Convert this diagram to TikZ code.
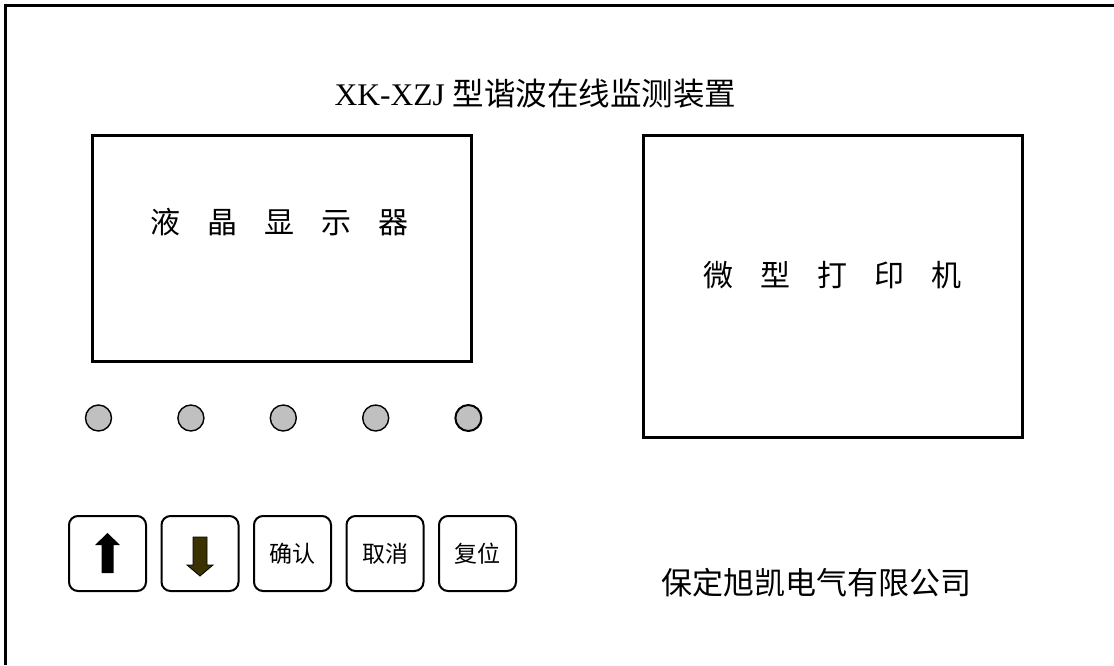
\documentclass[tikz,border=0pt]{standalone}
\usepackage{fontspec}
\setmainfont{Liberation Serif}
\newfontfamily\cjk{Noto Sans CJK SC}
\usetikzlibrary{chains,positioning}
\definecolor{knobgray}{RGB}{192,192,192}
\definecolor{darkolive}{RGB}{58,50,0}

\begin{document}
\begin{tikzpicture}[x=1pt,y=-1pt,
    panel/.style={draw,line width=3pt,inner sep=0pt},
    knob/.style={circle,draw,fill=knobgray,line width=1.4pt,
      minimum size=26pt,inner sep=0pt},
    key/.style={draw,rounded corners=9pt,line width=2pt,
      minimum width=77pt,minimum height=75pt,inner sep=0pt,
      font=\cjk\fontsize{23}{23}\selectfont},
    bigcjk/.style={font=\cjk\fontsize{30}{30}\selectfont}]
  \useasboundingbox (0,0) rectangle (1114,665);
  \draw[line width=3pt] (5,665) -- (5,5.5) -- (1114,5.5);
  \node[font=\fontsize{31.5}{32}\selectfont] (title) at (535.5,94)
    {XK-XZJ {\cjk 型谐波在线监测装置}};
  % display and printer
  \node[panel,minimum width=379pt,minimum height=226pt] (lcd) at (281.5,248) {};
  \node[bigcjk] (lcdtext) at (279,222)
    {液\hspace{27pt}晶\hspace{27pt}显\hspace{27pt}示\hspace{27pt}器};
  \node[panel,minimum width=379pt,minimum height=302pt] (printer) at (832.5,286) {};
  \node[bigcjk] (printertext) at (832.5,275)
    {微\hspace{27pt}型\hspace{27pt}打\hspace{27pt}印\hspace{27pt}机};
  % lamps
  \begin{scope}[start chain=lamps going right,node distance=65pt]
    \node[knob,on chain] (L1) at (98.5,418) {};
    \node[knob,on chain] (L2) {};
    \node[knob,on chain] (L3) {};
    \node[knob,on chain] (L4) {};
    \node[knob,on chain,line width=2pt] (L5) {};
  \end{scope}
  % keys
  \begin{scope}[start chain=keys going right,node distance=13.5pt]
    \node[key,on chain] (up) at (107.5,553.5) {};
    \node[key,on chain] (down) {};
    \node[key,on chain] (ok) {\raisebox{-5pt}{确认}};
    \node[key,on chain] (cancel) {\raisebox{-5pt}{取消}};
    \node[key,on chain] (reset) {\raisebox{-5pt}{复位}};
  \end{scope}
  \fill[black,shift={(up.center)}] (0,-20.5) -- (12.5,-8.5) -- (6,-8.5) -- (6,19.5)
    -- (-6,19.5) -- (-6,-8.5) -- (-12.5,-8.5) -- cycle;
  \draw[fill=darkolive,line width=0.8pt,shift={(down.center)}] (-7,-16.5) -- (7,-16.5)
    -- (7,11.5) -- (13,11.5) -- (0,22.5) -- (-13,11.5) -- (-7,11.5) -- cycle;
  \node[font=\cjk\fontsize{31}{31}\selectfont] (maker) at (816,583) {保定旭凯电气有限公司};
\end{tikzpicture}
\end{document}
